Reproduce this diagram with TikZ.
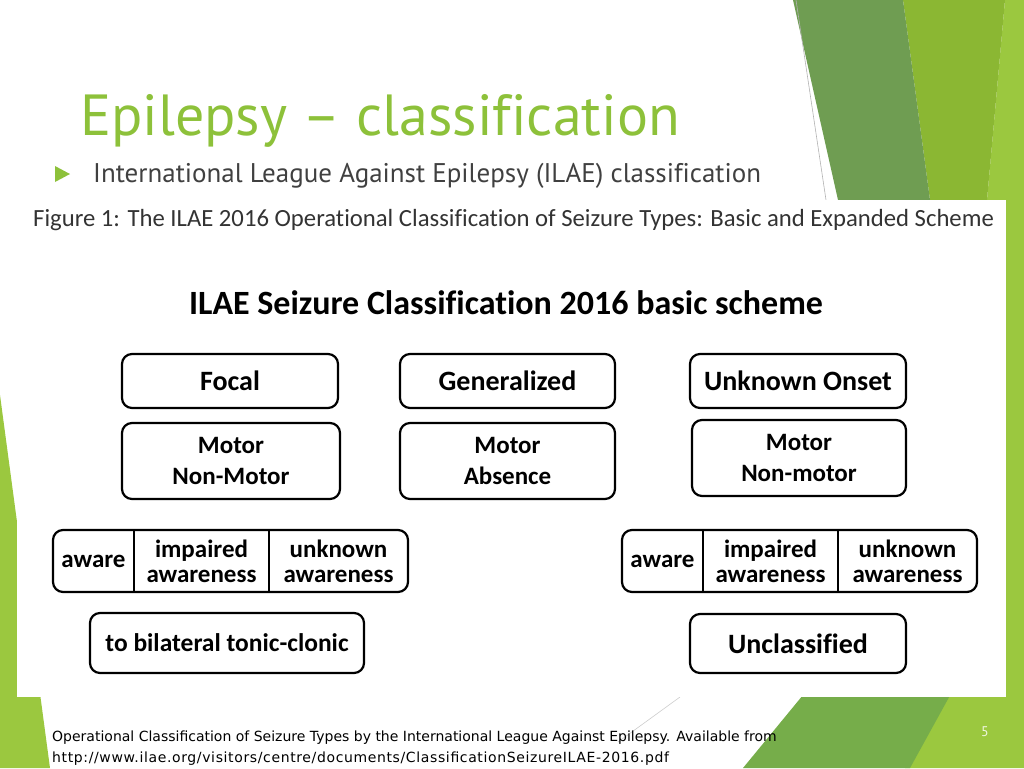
\documentclass[tikz,border=0pt]{standalone}
\usepackage{fontspec}
\usepackage{tikz}
\usepackage{xcolor}
\setmainfont{Carlito}[Ligatures=NoCommon]
\newfontfamily\titlefont{PT Sans}[Ligatures=NoCommon]
\newfontfamily\notefont{DejaVu Sans}
\definecolor{facetgreen}{RGB}{141,193,58}
\definecolor{darkleaf}{RGB}{111,157,82}
\definecolor{midleaf}{RGB}{139,183,51}
\definecolor{lightleaf}{RGB}{155,200,63}
\definecolor{lowleaf}{RGB}{118,173,74}
\definecolor{subgray}{RGB}{64,64,64}

\begin{document}
\begin{tikzpicture}[x=1pt, y=-1pt]
            % Define styles
            \tikzstyle{onsetbox} = [rectangle, rounded corners=10pt, draw=black, line width=2.2pt, minimum height=54pt, inner sep=0pt, font=\bfseries\fontsize{28}{31}\selectfont, align=center]
            \tikzstyle{typebox} = [rectangle, rounded corners=10pt, draw=black, line width=2.2pt, minimum height=76pt, inner sep=0pt, font=\bfseries\fontsize{25}{31}\selectfont, align=center]
            \tikzstyle{awarestrip} = [rectangle, rounded corners=10pt, draw=black, line width=2.2pt, minimum width=355pt, minimum height=62pt, inner sep=0pt]
            \tikzstyle{awarecell} = [rectangle, minimum height=62pt, inner sep=0pt, font=\bfseries\fontsize{25}{25}\selectfont, align=center]
            \tikzstyle{divider} = [line width=2pt]
            \useasboundingbox (0,0) rectangle (1024,768);

            % Slide decoration
            \fill[lightleaf] (0,395) -- (50,768) -- (0,768) -- cycle;
            \fill[lightleaf] (1005,0) -- (1024,0) -- (1024,768) -- (905,768) -- (987,200) -- cycle;
            \fill[midleaf] (903,0) -- (1005,0) -- (987,200) -- (930,200) -- cycle;
            \fill[darkleaf] (793,0) -- (903,0) -- (930,200) -- (838,200) -- cycle;
            \fill[lowleaf] (743,768) -- (840,650) -- (975,650) -- (910,768) -- cycle;
            \draw[gray!60, line width=0.6pt] (796,0) -- (826,200);
            \draw[gray!40, line width=0.6pt] (680,697) -- (618,742);

            % Slide title
            \node (title) [anchor=base west, inner sep=0pt, text=facetgreen, font=\titlefont\fontsize{58}{58}\selectfont] at (80,135) {Epilepsy – classification};
            \fill[facetgreen] (55,166) -- (70,174) -- (55,182) -- cycle;
            \node (ilae) [anchor=base west, inner sep=0pt, text=subgray, font=\titlefont\fontsize{27}{27}\selectfont] at (93,182) {International League Against Epilepsy (ILAE) classification};

            % Figure panel
            \fill[white] (17,200) rectangle (1006,697);
            \node (figcap) [anchor=base west, inner sep=0pt, text=black!80, font=\fontsize{24.7}{25}\selectfont] at (33,226) {Figure 1: The ILAE 2016 Operational Classification of Seizure Types: Basic and Expanded Scheme};
            \node (scheme) [inner sep=0pt, font=\bfseries\fontsize{34}{34}\selectfont] at (506,303) {ILAE Seizure Classification 2016 basic scheme};

            % Onset row
            \node (focal) [onsetbox, minimum width=216pt] at (230,381) {Focal};
            \node (general) [onsetbox, minimum width=215pt] at (507.5,381) {Generalized};
            \node (unknown) [onsetbox, minimum width=216pt] at (798,381) {Unknown Onset};

            % Motor rows
            \node (focaltype) [typebox, minimum width=218pt] at (231,461) {Motor\\Non-Motor};
            \node (generaltype) [typebox, minimum width=215pt] at (507.5,461) {Motor\\Absence};
            \node (unknowntype) [typebox, minimum width=214pt] at (799,458) {Motor\\Non-motor};

            % Awareness rows
            \node (leftstrip) [awarestrip] at (230.5,561) {};
            \node (leftaware) [awarecell, minimum width=81pt] at (93.5,561) {aware};
            \node (leftimpaired) [awarecell, minimum width=135pt] at (201.5,561) {impaired\\awareness};
            \node (leftunknown) [awarecell, minimum width=139pt] at (338.5,561) {unknown\\awareness};
            \draw [divider] (leftaware.north east) -- (leftaware.south east);
            \draw [divider] (leftimpaired.north east) -- (leftimpaired.south east);

            \node (rightstrip) [awarestrip] at (799.5,561) {};
            \node (rightaware) [awarecell, minimum width=81pt] at (662.5,561) {aware};
            \node (rightimpaired) [awarecell, minimum width=135pt] at (770.5,561) {impaired\\awareness};
            \node (rightunknown) [awarecell, minimum width=139pt] at (907.5,561) {unknown\\awareness};
            \draw [divider] (rightaware.north east) -- (rightaware.south east);
            \draw [divider] (rightimpaired.north east) -- (rightimpaired.south east);

            % Last row
            \node (bilateral) [onsetbox, minimum width=274pt, minimum height=60pt, font=\bfseries\fontsize{25.5}{26}\selectfont] at (227,643) {to bilateral tonic-clonic};
            \node (unclassified) [onsetbox, minimum width=216pt, minimum height=59pt] at (798,643.5) {Unclassified};

            % Footnote and page number
            \node (source) [anchor=north west, inner sep=0pt, align=left, font=\notefont\fontsize{14}{21}\selectfont] at (52,731) {Operational Classification of Seizure Types by the International League Against Epilepsy. Available from\\\addfontfeature{LetterSpace=4.5}http://www.ilae.org/visitors/centre/documents/ClassificationSeizureILAE-2016.pdf};
            \node (pagenum) [inner sep=0pt, text=white!85!lightleaf, font=\titlefont\fontsize{14}{14}\selectfont] at (985,732) {5};
        \end{tikzpicture}
\end{document}
